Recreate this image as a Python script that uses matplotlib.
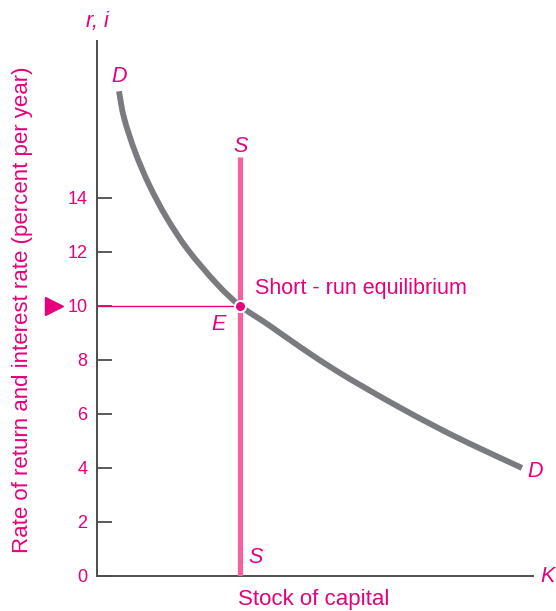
import matplotlib
matplotlib.use('Agg')
from matplotlib import pyplot as plt
from matplotlib.path import Path
from matplotlib.patches import PathPatch
import numpy as np

plt.rcParams['font.family'] = ['Liberation Sans', 'DejaVu Sans']

PINK = '#e6007e'
SUPPLY_PINK = '#f062a0'
GREY = '#7a7b7e'
AXIS = '#4d4d4f'

# demand curve for capital (K in arbitrary units, r in percent)
demand_k = [0.815, 1.00, 1.41, 1.93, 2.58, 3.37, 4.44, 5.30, 6.33, 7.59, 8.81, 10.04, 11.30, 12.52, 13.74, 15.74]
demand_r = [17.94, 16.96, 15.70, 14.48, 13.26, 12.07, 10.81, 10.0, 9.31, 8.43, 7.63, 6.90, 6.19, 5.54, 4.93, 4.00]

# short-run (fixed) supply of capital
supply_k = 5.3
supply_top = 15.5

eq_k = 5.3
eq_r = 10

yticks = [0, 2, 4, 6, 8, 10, 12, 14]

FS = 15.5
LFS = 16
TFS = 13


def smooth_path(xs, ys):
    # catmull-rom through the read points, handed to matplotlib as cubic beziers
    pts = np.column_stack([xs, ys])
    verts = [pts[0]]
    codes = [Path.MOVETO]
    n = len(pts)
    for i in range(n - 1):
        p0 = pts[max(i - 1, 0)]
        p1 = pts[i]
        p2 = pts[i + 1]
        p3 = pts[min(i + 2, n - 1)]
        c1 = p1 + (p2 - p0) / 6.0
        c2 = p2 - (p3 - p1) / 6.0
        verts += [c1, c2, p2]
        codes += [Path.CURVE4] * 3
    return Path(verts, codes)


fig = plt.figure(figsize=(5.56, 6.11), dpi=100)
ax = fig.add_axes([97/556, 35/611, 436/556, 535/611])
ax.set_xlim(0, 16.15)
ax.set_ylim(0, 19.8)

ax.spines['top'].set_visible(False)
ax.spines['right'].set_visible(False)
for s in ['left', 'bottom']:
    ax.spines[s].set_color(AXIS)
    ax.spines[s].set_linewidth(1.4)

ax.set_yticks(yticks)
ax.set_yticklabels([str(t) for t in yticks], color=PINK, fontsize=TFS)
ax.tick_params(axis='y', direction='in', length=11, width=1.3, color=AXIS, pad=7)
ax.set_xticks([])

# lines
ax.add_patch(PathPatch(smooth_path(demand_k, demand_r), facecolor='none', edgecolor=GREY,
                       lw=4.2, capstyle='butt', zorder=3))
ax.plot([supply_k, supply_k], [0, supply_top], color=SUPPLY_PINK, lw=3.8, solid_capstyle='butt', zorder=4)
ax.plot([0, eq_k], [eq_r, eq_r], color=PINK, lw=1.0, zorder=2)
ax.plot([eq_k], [eq_r], 'o', color=PINK, markersize=8, markeredgecolor='white', markeredgewidth=1.5, zorder=5)

# arrow marker pointing at the 10 percent rate
ax.plot([-1.6], [eq_r], marker='>', color=PINK, markersize=13.5, clip_on=False)

# labels
ax.text(0.81, 18.5, 'D', color=PINK, fontsize=FS, style='italic', ha='center', va='center')
ax.text(15.95, 3.85, 'D', color=PINK, fontsize=FS, style='italic', ha='left', va='center')
ax.text(supply_k, 15.9, 'S', color=PINK, fontsize=FS, style='italic', ha='center', va='center')
ax.text(supply_k + 0.3, 0.68, 'S', color=PINK, fontsize=FS, style='italic', ha='left', va='center')
ax.text(eq_k + 0.55, 10.65, 'Short - run equilibrium', color=PINK, fontsize=FS, ha='left', va='center')
ax.text(eq_k - 0.8, 9.3, 'E', color=PINK, fontsize=FS, style='italic', ha='center', va='center')

fig.text(97/556, 1 - 22/611, 'r, i', color=PINK, fontsize=FS, style='italic', ha='center', va='center')
fig.text(548/556, 1 - 577/611, 'K', color=PINK, fontsize=FS, style='italic', ha='center', va='center')
fig.text(314/556, 1 - 600/611, 'Stock of capital', color=PINK, fontsize=LFS, ha='center', va='center')
fig.text(23/556, 1 - 310/611, 'Rate of return and interest rate (percent per year)',
         color=PINK, fontsize=LFS, rotation=90, ha='center', va='center')

fig.savefig('out.png', dpi=100)
